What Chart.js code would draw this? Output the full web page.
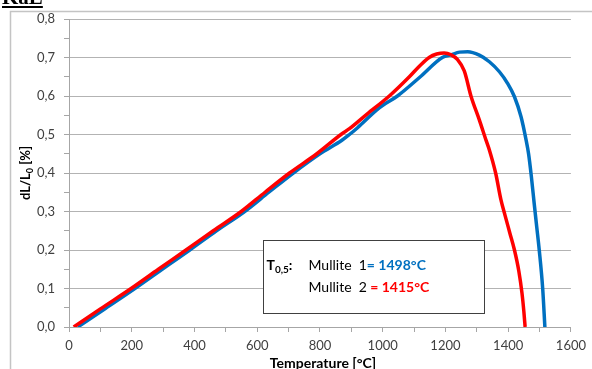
<!DOCTYPE html>
<html>
<head>
<meta charset="utf-8">
<script src="https://cdn.jsdelivr.net/npm/chart.js@4/dist/chart.umd.min.js"></script>
<style>
  html, body { margin: 0; padding: 0; background: #fff; }
  #wrap { position: relative; width: 592px; height: 369px; overflow: hidden; }
  #kae { position: absolute; left: 2px; top: -15px; font: bold 21px "Liberation Serif", serif; text-decoration: underline; color: #000; }
  canvas { position: absolute; left: 0; top: 0; }
</style>
</head>
<body>
<div id="wrap">
  <canvas id="c" width="592" height="369"></canvas>
  <div id="kae">KaE</div>
</div>
<script>
// Mullite 2 (red)
const redT = [15, 100, 198, 285, 373, 460, 549, 625, 703, 790, 867, 894, 950, 1021, 1085, 1120, 1148, 1172, 1196, 1218, 1238, 1260, 1282, 1308, 1329, 1340, 1360, 1377, 1390, 1405, 1420, 1434, 1444, 1450, 1454];
const redV = [0, 0.047, 0.1, 0.15, 0.2, 0.25, 0.3, 0.35, 0.4, 0.45, 0.5, 0.515, 0.553, 0.6, 0.65, 0.68, 0.7, 0.709, 0.712, 0.707, 0.695, 0.665, 0.598, 0.538, 0.486, 0.46, 0.4, 0.33, 0.29, 0.245, 0.2, 0.145, 0.088, 0.04, 0];
// Mullite 1 (blue)
const blueT = [28, 110, 210, 297, 385, 470, 560, 637, 715, 800, 870, 894, 919, 989, 1047, 1120, 1190, 1218, 1245, 1271, 1308, 1340, 1372, 1398, 1420, 1441, 1457, 1465, 1474, 1483, 1491, 1499, 1510, 1517];
const blueV = [0, 0.045, 0.1, 0.15, 0.2, 0.25, 0.3, 0.35, 0.4, 0.45, 0.485, 0.5, 0.517, 0.569, 0.6, 0.65, 0.7, 0.707, 0.714, 0.715, 0.706, 0.689, 0.663, 0.633, 0.598, 0.546, 0.486, 0.45, 0.39, 0.32, 0.26, 0.2, 0.1, 0];

const xMin = 0, xMax = 1600, xStep = 100, xLabelStep = 200;
const yMin = 0, yMax = 0.8, yStep = 0.05;
const seriesNames = ['Mullite 2', 'Mullite 1'];
const t05Values = ['1415°C', '1498°C'];

const toPts = (xs, ys) => xs.map((x, i) => ({ x: x, y: ys[i] }));
const RED = '#FF0000', BLUE = '#0070C0';
const FONT = 'Lato, "Open Sans", sans-serif';

const decor = {
  id: 'decor',
  beforeDraw(chart) {
    const ctx = chart.ctx;
    ctx.save();
    ctx.strokeStyle = '#c4c4c4';
    ctx.lineWidth = 1.5;
    ctx.beginPath();
    ctx.moveTo(10.5, 370);
    ctx.lineTo(10.5, 11.5);
    ctx.lineTo(600, 11.5);
    ctx.stroke();
    ctx.restore();
  },
  afterDraw(chart) {
    const ctx = chart.ctx;
    const xs = chart.scales.x, ys = chart.scales.y;
    ctx.save();
    ctx.fillStyle = '#000';
    ctx.font = 'bold 14px ' + FONT;
    ctx.textAlign = 'center';
    ctx.textBaseline = 'middle';
    ctx.fillText('Temperature [°C]', (chart.chartArea.left + chart.chartArea.right) / 2 + 3, 363);
    // y title with subscript
    ctx.translate(26, (chart.chartArea.top + chart.chartArea.bottom) / 2);
    ctx.rotate(-Math.PI / 2);
    const p1 = 'dL/L', sub = '0', p2 = ' [%]';
    ctx.font = 'bold 13px ' + FONT;
    const w1 = ctx.measureText(p1).width, w3 = ctx.measureText(p2).width;
    ctx.font = 'bold 9px ' + FONT;
    const w2 = ctx.measureText(sub).width;
    let x0 = -(w1 + w2 + w3) / 2;
    ctx.textAlign = 'left';
    ctx.textBaseline = 'alphabetic';
    ctx.font = 'bold 13px ' + FONT;
    ctx.fillText(p1, x0, 4);
    ctx.font = 'bold 9px ' + FONT;
    ctx.fillText(sub, x0 + w1, 7);
    ctx.font = 'bold 13px ' + FONT;
    ctx.fillText(p2, x0 + w1 + w2, 4);
    ctx.restore();

    // info box anchored to data coordinates
    ctx.save();
    const bl = Math.round(xs.getPixelForValue(617)) + 0.5;
    const br = Math.round(xs.getPixelForValue(1324)) + 0.5;
    const bt = Math.round(ys.getPixelForValue(0.226)) + 0.5;
    const bb = Math.round(ys.getPixelForValue(0.036)) + 0.5;
    ctx.fillStyle = '#fff';
    ctx.fillRect(bl, bt, br - bl, bb - bt);
    ctx.strokeStyle = '#404040';
    ctx.lineWidth = 1;
    ctx.strokeRect(bl, bt, br - bl, bb - bt);
    const r1 = bt + 25, r2 = bt + 47;
    ctx.textBaseline = 'middle';
    ctx.textAlign = 'left';
    ctx.fillStyle = '#000';
    ctx.font = 'bold 14px ' + FONT;
    ctx.fillText('T', bl + 3, r1);
    const tw = ctx.measureText('T').width;
    ctx.font = 'bold 10px ' + FONT;
    ctx.fillText('0,5', bl + 3 + tw, r1 + 4);
    const sw = ctx.measureText('0,5').width;
    ctx.font = 'bold 14px ' + FONT;
    ctx.fillText(':', bl + 3 + tw + sw, r1);

    const n1 = seriesNames[1].replace(' ', '  ');
    const n2 = seriesNames[0].replace(' ', '  ');
    ctx.font = '14px ' + FONT;
    ctx.fillStyle = '#000';
    ctx.fillText(n1, bl + 45, r1);
    let mw = ctx.measureText(n1).width;
    ctx.font = 'bold 14px ' + FONT;
    ctx.fillStyle = BLUE;
    ctx.fillText('= ' + t05Values[1], bl + 45 + mw, r1);
    ctx.font = '14px ' + FONT;
    ctx.fillStyle = '#000';
    ctx.fillText(n2, bl + 45, r2);
    mw = ctx.measureText(n2).width;
    ctx.font = 'bold 14px ' + FONT;
    ctx.fillStyle = RED;
    ctx.fillText(' = ' + t05Values[0], bl + 45 + mw, r2);
    ctx.restore();
  }
};

new Chart(document.getElementById('c'), {
  type: 'scatter',
  data: {
    datasets: [
      { label: seriesNames[0], data: toPts(redT, redV), showLine: true, borderColor: RED, borderWidth: 3.5, pointRadius: 0, cubicInterpolationMode: 'monotone', fill: false },
      { label: seriesNames[1], data: toPts(blueT, blueV), showLine: true, borderColor: BLUE, borderWidth: 3.5, pointRadius: 0, cubicInterpolationMode: 'monotone', fill: false }
    ]
  },
  options: {
    responsive: false,
    animation: false,
    devicePixelRatio: 1,
    layout: { padding: { left: 0, right: 20, top: 19, bottom: 0 } },
    plugins: { legend: { display: false }, tooltip: { enabled: false } },
    scales: {
      x: {
        type: 'linear', min: xMin, max: xMax,
        afterFit: s => { s.height = 42; },
        border: { display: true, color: '#a6a6a6', width: 1 },
        grid: { drawOnChartArea: false, drawTicks: true, tickLength: 5, tickColor: '#a6a6a6' },
        ticks: {
          stepSize: xStep, autoSkip: false, maxRotation: 0, padding: 6,
          color: '#404040', font: { family: FONT, size: 13 },
          callback: v => (Math.round(v) % xLabelStep === 0 ? String(Math.round(v)) : '')
        }
      },
      y: {
        type: 'linear', min: yMin, max: yMax,
        afterFit: s => { s.width = 69; },
        border: { display: true, color: '#a6a6a6', width: 1 },
        grid: {
          drawTicks: true, tickLength: 5, tickColor: '#a6a6a6',
          color: c => (Math.round(c.tick.value * 100) % 10 === 0 ? '#b3b3b3' : 'rgba(0,0,0,0)'),
          lineWidth: 1
        },
        ticks: {
          stepSize: yStep, autoSkip: false, padding: 9,
          color: '#404040', font: { family: FONT, size: 13 },
          callback: v => (Math.round(v * 100) % 10 === 0 ? v.toFixed(1).replace('.', ',') : '')
        }
      }
    }
  },
  plugins: [decor]
});
</script>
</body>
</html>
